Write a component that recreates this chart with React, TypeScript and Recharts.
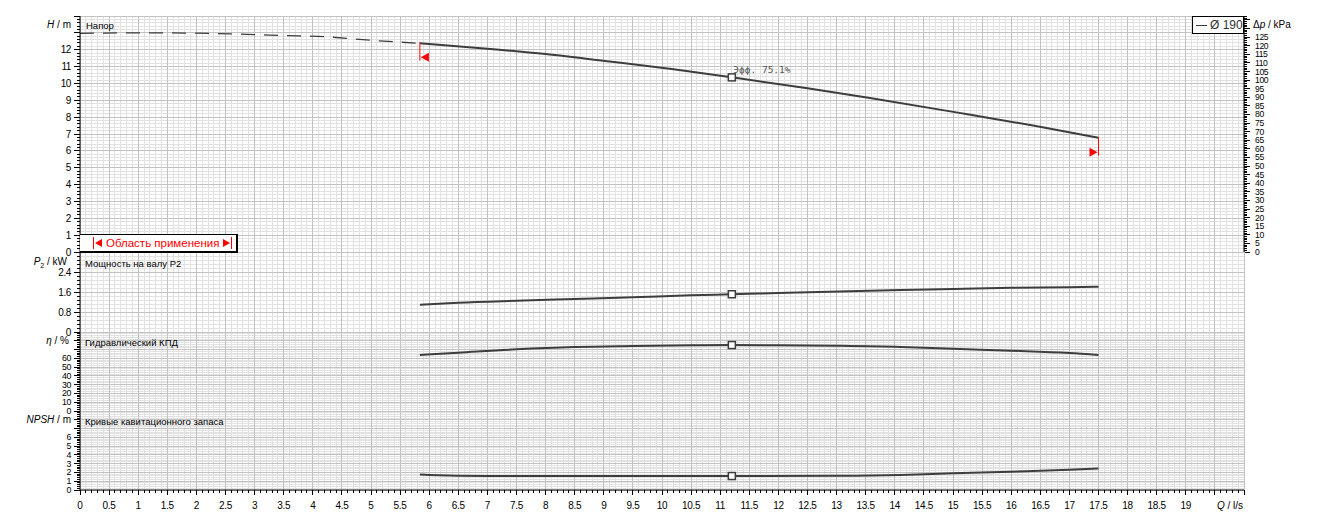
import React from 'react';
import { LineChart, Line, XAxis, YAxis, ReferenceDot, ReferenceLine, ReferenceArea } from 'recharts';

// ---- data ----
const headDashQ = [0, 1, 2, 3, 3.5, 4.2, 5.0, 5.84];
const headDashH = [12.97, 13.0, 12.98, 12.9, 12.84, 12.77, 12.56, 12.38];
const headQ = [5.84, 7.0, 8.0, 9.1, 10.2, 11.2, 12.5, 13.6, 15.3, 16.4, 17.5];
const headH = [12.38, 12.06, 11.74, 11.3, 10.84, 10.36, 9.71, 9.12, 8.14, 7.49, 6.78];

const powerQ = [5.84, 6.5, 7.5, 8.5, 9.5, 10.5, 11.2, 12.0, 14.1, 15.0, 16.0, 17.0, 17.5];
const powerP = [1.09, 1.17, 1.25, 1.32, 1.39, 1.47, 1.51, 1.56, 1.68, 1.72, 1.77, 1.79, 1.81];

const etaQ = [5.84, 6.5, 7.5, 8.5, 9.5, 10.5, 11.2, 12.0, 13.0, 14.1, 15.0, 16.0, 17.0, 17.5];
const etaE = [63.8, 66.4, 70.3, 72.9, 74.0, 74.8, 75.1, 74.9, 74.3, 73.0, 70.8, 68.7, 66.1, 63.8];

const npshQ = [5.84, 6.0, 7.0, 9.0, 11.2, 13.0, 14.1, 15.0, 16.0, 17.0, 17.5];
const npshN = [1.76, 1.7, 1.59, 1.59, 1.59, 1.62, 1.71, 1.9, 2.08, 2.3, 2.45];

// best efficiency point
const bepQ = 11.2;
const bepH = 10.36;
const bepP = 1.51;
const bepEta = 75.1;
const bepNpsh = 1.59;

// application range
const rangeStartQ = 5.84;
const rangeEndQ = 17.5;
const rangeStartH = [12.44, 11.35];
const rangeEndH = [6.8, 5.71];
const rangeStartArrowH = 11.55;
const rangeEndArrowH = 5.91;

// axes
const Q_MAX = 20;
const H_MAX = 14;
const KPA_MAX = H_MAX * 9.80665;
const P_MAX = 3.2;
const ETA_MAX = 90;
const NPSH_MAX = 9;

const headLabels = [0, 1, 2, 3, 4, 5, 6, 7, 8, 9, 10, 11, 12];
const kpaLabels = [0, 5, 10, 15, 20, 25, 30, 35, 40, 45, 50, 55, 60, 65, 70, 75, 80, 85, 90, 95, 100, 105, 110, 115, 120, 125];
const powerLabels = [0, 0.8, 1.6, 2.4];
const etaLabels = [0, 10, 20, 30, 40, 50, 60];
const npshLabels = [0, 1, 2, 3, 4, 5, 6];

const INK = '#3d3d3d';
const RED = '#ff0000';
const GRID_MINOR = '#e2e2e2';
const GRID_MAJOR = '#c2c2c2';
const TICK_FONT = "'Liberation Sans', Arial, sans-serif";
const TEXT_FONT = "'Liberation Sans', Arial, sans-serif";
const WIDTH = 1323;

const steps = (from: number, to: number, step: number) => {
  const out: number[] = [];
  const n = Math.round((to - from) / step);
  for (let i = 0; i <= n; i++) out.push(+(from + i * step).toFixed(4));
  return out;
};
const onStep = (v: number, step: number) => Math.abs(v / step - Math.round(v / step)) < 1e-6;
const has = (arr: number[], v: number) => arr.some((a) => Math.abs(a - v) < 1e-6);
const pairs = (xs: number[], ys: number[], key: string) => xs.map((q, i) => ({ q, [key]: ys[i] }));

const qLabels = steps(0, 19, 0.5);
const qMinor = steps(0, Q_MAX, 0.1);
const qMajor = steps(0, Q_MAX, 0.5);

const LeftTick = (props: any) => {
  const { x, y, payload, majorStep, labels, size = 10 } = props;
  const v = payload.value;
  const len = onStep(v, majorStep) ? 6 : 3;
  return (
    <g>
      <line x1={x - len} x2={x} y1={y} y2={y} stroke="#000" shapeRendering="crispEdges" />
      {has(labels, v) && (
        <text
          x={x - 9}
          y={y}
          textAnchor="end"
          dominantBaseline="central"
          fontSize={size}
          letterSpacing={-0.4}
          fontFamily={TICK_FONT}
          fill="#000"
        >
          {v}
        </text>
      )}
    </g>
  );
};

const RightTick = (props: any) => {
  const { x, y, payload } = props;
  const v = payload.value;
  const len = onStep(v, 5) ? 6 : 3;
  return (
    <g>
      <line x1={x} x2={x + len} y1={y} y2={y} stroke="#000" shapeRendering="crispEdges" />
      {has(kpaLabels, v) && (
        <text
          x={x + 11}
          y={y}
          textAnchor="start"
          dominantBaseline="central"
          fontSize={8.6}
          letterSpacing={-0.4}
          fontFamily={TICK_FONT}
          fill="#000"
        >
          {v}
        </text>
      )}
    </g>
  );
};

const BottomTick = (props: any) => {
  const { x, y, payload } = props;
  const v = payload.value;
  const len = onStep(v, 0.5) ? 5 : 3;
  return (
    <g>
      <line x1={x} x2={x} y1={y} y2={y + len} stroke="#000" shapeRendering="crispEdges" />
      {has(qLabels, v) && (
        <text
          x={x}
          y={y + 15}
          textAnchor="middle"
          dominantBaseline="central"
          fontSize={10}
          letterSpacing={-0.3}
          fontFamily={TICK_FONT}
          fill="#000"
        >
          {v}
        </text>
      )}
      {v === Q_MAX && (
        <text x={x - 1} y={y + 15} textAnchor="end" dominantBaseline="central" fontSize={10} fontFamily={TICK_FONT} fill="#000">
          <tspan fontStyle="italic">Q</tspan> / l/s
        </text>
      )}
    </g>
  );
};

const Square = (props: any) => (
  <rect x={props.cx - 3.5} y={props.cy - 3.5} width={7} height={7} fill="#fff" stroke={INK} strokeWidth={1.5} />
);

const BepSquare = (props: any) => (
  <g>
    <Square {...props} />
    <text x={props.cx + 1.5} y={props.cy - 4} fontSize={9.5} fontFamily="'DejaVu Sans Mono', monospace" fill="#555">
      Эфф. 75.1%
    </text>
  </g>
);

const ArrowLeft = (props: any) => (
  <polygon points={`${props.cx + 1},${props.cy} ${props.cx + 9},${props.cy - 4.5} ${props.cx + 9},${props.cy + 4.5}`} fill={RED} />
);
const ArrowRight = (props: any) => (
  <polygon points={`${props.cx - 1},${props.cy} ${props.cx - 9},${props.cy - 4.5} ${props.cx - 9},${props.cy + 4.5}`} fill={RED} />
);

// background grid: light lines every minor step, darker ones every major step
const panelGrid = (yMax: number, yMinorStep: number, yMajorStep: number) => {
  const yMinor = steps(0, yMax, yMinorStep).filter((v) => !onStep(v, yMajorStep));
  const yMajor = steps(0, yMax, yMajorStep);
  const line = { shapeRendering: 'crispEdges', ifOverflow: 'visible' as const };
  return [
    ...qMinor.filter((v) => !onStep(v, 0.5)).map((v) => <ReferenceLine key={`vx${v}`} x={v} stroke={GRID_MINOR} {...line} />),
    ...yMinor.map((v) => <ReferenceLine key={`hy${v}`} y={v} stroke={GRID_MINOR} {...line} />),
    ...qMajor.map((v) => <ReferenceLine key={`VX${v}`} x={v} stroke={GRID_MAJOR} {...line} />),
    ...yMajor.map((v) => <ReferenceLine key={`HY${v}`} y={v} stroke={GRID_MAJOR} {...line} />),
    <ReferenceArea key="frame" x1={0} x2={Q_MAX} y1={0} y2={yMax} fill="none" stroke="#000" shapeRendering="crispEdges" />,
  ];
};

const curve = {
  type: 'monotone' as const,
  stroke: INK,
  strokeWidth: 2,
  dot: false,
  activeDot: false,
  isAnimationActive: false,
};

const leftAxis = {
  type: 'number' as const,
  interval: 0,
  width: 80,
  tickSize: 0,
  tickMargin: 0,
  tickLine: false,
  axisLine: { stroke: '#000' },
  allowDataOverflow: true,
};

const hiddenX = <XAxis type="number" dataKey="q" domain={[0, Q_MAX]} hide allowDataOverflow />;

const Note = ({ left, right, top, size = 10, color = '#000', font = TEXT_FONT, spacing = 0, children }: any) => (
  <div
    style={{
      position: 'absolute',
      left,
      right,
      top: top - 7,
      height: 14,
      lineHeight: '14px',
      fontSize: size,
      color,
      fontFamily: font,
      letterSpacing: spacing,
      whiteSpace: 'nowrap',
      textAlign: right !== undefined ? 'right' : 'left',
    }}
  >
    {children}
  </div>
);

const App: React.FC = () => {
  return (
    <div style={{ position: 'absolute', left: 0, top: 0, width: WIDTH, height: 522, background: '#fff', overflow: 'hidden' }}>
      {/* Head */}
      <div style={{ position: 'absolute', left: 0, top: 0 }}>
        <LineChart width={WIDTH} height={262} margin={{ top: 16, right: 0, bottom: 10, left: 0 }}>
          {hiddenX}
          <YAxis {...leftAxis} domain={[0, H_MAX]} ticks={steps(0, H_MAX, 0.2)} tick={<LeftTick majorStep={1} labels={headLabels} />} />
          <YAxis
            {...leftAxis}
            yAxisId="kpa"
            orientation="right"
            domain={[0, KPA_MAX]}
            ticks={steps(0, 137, 1)}
            width={79}
            tick={<RightTick />}
          />
          {panelGrid(H_MAX, 0.2, 1)}
          <Line data={pairs(headDashQ, headDashH, 'h')} dataKey="h" {...curve} strokeWidth={1.3} strokeDasharray="14 9" />
          <Line data={pairs(headQ, headH, 'h')} dataKey="h" {...curve} />
          <ReferenceLine segment={[{ x: rangeStartQ, y: rangeStartH[0] }, { x: rangeStartQ, y: rangeStartH[1] }]} stroke={RED} />
          <ReferenceLine segment={[{ x: rangeEndQ, y: rangeEndH[0] }, { x: rangeEndQ, y: rangeEndH[1] }]} stroke={RED} />
          <ReferenceDot x={rangeStartQ} y={rangeStartArrowH} shape={<ArrowLeft />} />
          <ReferenceDot x={rangeEndQ} y={rangeEndArrowH} shape={<ArrowRight />} />
          <ReferenceDot x={bepQ} y={bepH} shape={<BepSquare />} />
        </LineChart>
      </div>

      {/* Power */}
      <div style={{ position: 'absolute', left: 0, top: 242 }}>
        <LineChart width={WIDTH} height={100} margin={{ top: 10, right: 79, bottom: 10, left: 0 }}>
          {hiddenX}
          <YAxis {...leftAxis} domain={[0, P_MAX]} ticks={steps(0, P_MAX, 0.16)} tick={<LeftTick majorStep={0.8} labels={powerLabels} />} />
          {panelGrid(P_MAX, 0.16, 0.8)}
          <Line data={pairs(powerQ, powerP, 'p')} dataKey="p" {...curve} />
          <ReferenceDot x={bepQ} y={bepP} shape={<Square />} />
        </LineChart>
      </div>

      {/* Efficiency */}
      <div style={{ position: 'absolute', left: 0, top: 322 }}>
        <LineChart width={WIDTH} height={99} margin={{ top: 10, right: 79, bottom: 10, left: 0 }}>
          {hiddenX}
          <YAxis
            {...leftAxis}
            domain={[0, ETA_MAX]}
            ticks={steps(0, ETA_MAX, 2)}
            tick={<LeftTick majorStep={10} labels={etaLabels} size={8.8} />}
          />
          {panelGrid(ETA_MAX, 2, 10)}
          <Line data={pairs(etaQ, etaE, 'e')} dataKey="e" {...curve} />
          <ReferenceDot x={bepQ} y={bepEta} shape={<Square />} />
        </LineChart>
      </div>

      {/* NPSH */}
      <div style={{ position: 'absolute', left: 0, top: 401 }}>
        <LineChart width={WIDTH} height={121} margin={{ top: 10, right: 79, bottom: 0, left: 0 }}>
          <XAxis
            type="number"
            dataKey="q"
            domain={[0, Q_MAX]}
            ticks={qMinor}
            interval={0}
            height={32}
            tickSize={0}
            tickMargin={0}
            tickLine={false}
            axisLine={{ stroke: '#000' }}
            tick={<BottomTick />}
            allowDataOverflow
          />
          <YAxis
            {...leftAxis}
            domain={[0, NPSH_MAX]}
            ticks={steps(0, NPSH_MAX, 0.2)}
            tick={<LeftTick majorStep={1} labels={npshLabels} size={8.8} />}
          />
          {panelGrid(NPSH_MAX, 0.2, 1)}
          <Line data={pairs(npshQ, npshN, 'n')} dataKey="n" {...curve} />
          <ReferenceDot x={bepQ} y={bepNpsh} shape={<Square />} />
        </LineChart>
      </div>

      {/* axis titles */}
      <Note right={WIDTH - 71} top={25} size={10}>
        <i>H</i> / m
      </Note>
      <Note left={1253} top={25} size={10}>
        Δ<i>p</i> / kPa
      </Note>
      <Note right={WIDTH - 67} top={262} size={10}>
        <i>P</i>
        <sub style={{ fontSize: 7 }}>2</sub> / kW
      </Note>
      <Note right={WIDTH - 69} top={341} size={10}>
        <i>η</i> / %
      </Note>
      <Note right={WIDTH - 71} top={420} size={10}>
        <i>NPSH</i> / m
      </Note>

      {/* panel titles */}
      <Note left={86} top={26} size={9.5}>Напор</Note>
      <Note left={85} top={264} size={9.5}>Мощность на валу P2</Note>
      <Note left={85} top={343} size={9.5}>Гидравлический КПД</Note>
      <Note left={85} top={422} size={9.5}>Кривые кавитационного запаса</Note>

      {/* legend */}
      <div
        style={{
          position: 'absolute',
          left: 1192,
          top: 16,
          width: 52,
          height: 18,
          boxSizing: 'border-box',
          border: '1px solid #000',
          background: '#fff',
          display: 'flex',
          alignItems: 'center',
          gap: 3,
          paddingLeft: 3,
          fontFamily: TEXT_FONT,
          fontSize: 12,
          color: '#333',
        }}
      >
        <span style={{ display: 'inline-block', width: 11, height: 1, background: INK }} />
        <span>Ø 190</span>
      </div>

      {/* application range box */}
      <div
        style={{
          position: 'absolute',
          left: 80,
          top: 234,
          width: 158,
          height: 19,
          boxSizing: 'border-box',
          borderTop: '1px solid #000',
          borderRight: '2px solid #000',
          borderBottom: '2px solid #000',
          background: '#fff',
          display: 'flex',
          alignItems: 'center',
          paddingLeft: 13,
          gap: 4,
          fontFamily: TEXT_FONT,
          fontSize: 11.5,
          color: RED,
        }}
      >
        <svg width={9} height={12}>
          <line x1={0.5} x2={0.5} y1={0} y2={12} stroke={RED} />
          <polygon points="2,6 9,2 9,10" fill={RED} />
        </svg>
        <span>Область применения</span>
        <svg width={9} height={12}>
          <polygon points="0,2 7,6 0,10" fill={RED} />
          <line x1={8.5} x2={8.5} y1={0} y2={12} stroke={RED} />
        </svg>
      </div>
    </div>
  );
};

export default App;
